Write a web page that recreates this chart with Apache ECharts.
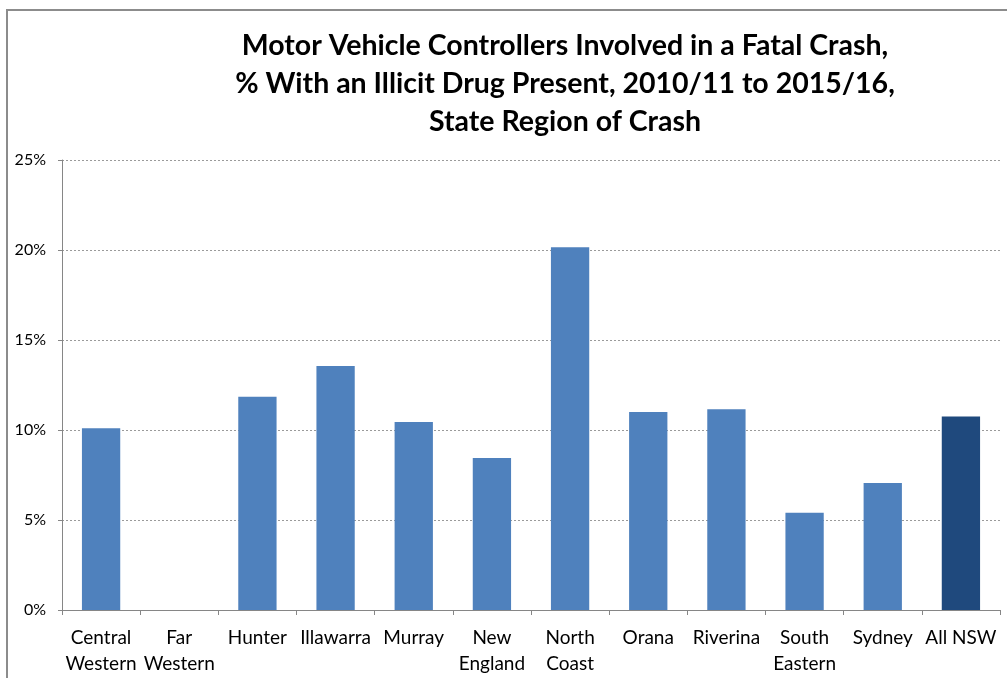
<!DOCTYPE html>
<html><head><meta charset="utf-8">
<script src="https://cdn.jsdelivr.net/npm/echarts@6/dist/echarts.min.js"></script>
<style>html,body{margin:0;padding:0;background:#fff}#c{width:1007px;height:678px}</style>
</head><body><div id="c"></div>
<script>
const categories = ['Central\nWestern','Far\nWestern','Hunter','Illawarra','Murray','New\nEngland','North\nCoast','Orana','Riverina','South\nEastern','Sydney','All NSW'];
const values = [10.1, 0, 11.85, 13.55, 10.45, 8.45, 20.15, 11.0, 11.15, 5.4, 7.05, 10.75];
const yTicks = [0, 5, 10, 15, 20, 25];
const titleLines = ['Motor Vehicle Controllers Involved in a Fatal Crash,', '% With an Illicit Drug Present, 2010/11 to 2015/16,', 'State Region of Crash'];

const FONT = 'Lato, "Open Sans", sans-serif';
const chart = echarts.init(document.getElementById('c'));
chart.setOption({
  animation: false,
  backgroundColor: '#fff',
  graphic: [
    { type: 'rect', shape: { x: 7, y: 10, width: 1100, height: 700 }, style: { fill: 'none', stroke: '#8c8c8c', lineWidth: 2 } },
    { type: 'text', x: 565, y: 27, style: { text: titleLines.join('\n'), font: 'bold 28.5px ' + FONT, textAlign: 'center', lineHeight: 38, fill: '#000' } }
  ],
  grid: { left: 62, right: 7, top: 160, bottom: 68 },
  xAxis: {
    type: 'category',
    data: categories,
    axisLine: { lineStyle: { color: '#868686', width: 1 } },
    axisTick: { show: true, length: 5, lineStyle: { color: '#868686' } },
    axisLabel: { color: '#000', fontSize: 19, fontFamily: FONT, lineHeight: 26, margin: 15, interval: 0 }
  },
  yAxis: {
    type: 'value', min: yTicks[0], max: yTicks[yTicks.length - 1], interval: 5,
    axisLine: { show: true, lineStyle: { color: '#868686', width: 1 } },
    axisTick: { show: true, length: 4, lineStyle: { color: '#868686' } },
    axisLabel: { color: '#000', fontSize: 16, fontFamily: FONT, margin: 16, formatter: '{value}%' },
    splitLine: { lineStyle: { color: '#9a9a9a', type: [2, 2], width: 1 } }
  },
  series: [{
    type: 'bar',
    data: values.map((v, i) => ({ value: v, itemStyle: { color: i === values.length - 1 ? '#1F497D' : '#4F81BD' } })),
    barCategoryGap: '51%'
  }]
});
</script></body></html>
